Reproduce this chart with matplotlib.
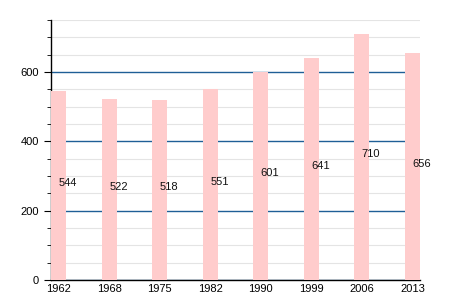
import matplotlib
matplotlib.use("Agg")
import matplotlib.pyplot as plt
from matplotlib.ticker import MultipleLocator

plt.rcParams["font.family"] = ["Liberation Sans", "DejaVu Sans"]

years = ["1962", "1968", "1975", "1982", "1990", "1999", "2006", "2013"]
values = [544, 522, 518, 551, 601, 641, 710, 656]

fig = plt.figure(figsize=(4.5, 3.0), dpi=100)
ax = fig.add_axes([51/450, 20/300, 369/450, 260/300])

x = list(range(len(years)))
ax.bar(x, values, width=0.3, color="#ffcccc", zorder=3)
for xi, v in zip(x, values):
    ax.text(xi, v / 2 + 8, str(v), ha="left", va="center", fontsize=8,
            color="#111111", zorder=4)

ax.set_xlim(-0.15, len(years) - 1 + 0.15)
ax.set_ylim(0, 750)
ax.set_xticks(x)
ax.set_xticklabels(years)
ax.yaxis.set_major_locator(MultipleLocator(200))
ax.yaxis.set_minor_locator(MultipleLocator(50))
ax.grid(axis="y", which="minor", color="#e4e4e4", linewidth=0.8, zorder=1)
ax.grid(axis="y", which="major", color="#1f5f96", linewidth=1.0, zorder=2)
ax.tick_params(axis="x", length=0, labelsize=8, pad=3)
ax.tick_params(axis="y", which="major", length=5, labelsize=8, direction="out")
ax.tick_params(axis="y", which="minor", length=3, direction="out")
for s in ["top", "right"]:
    ax.spines[s].set_visible(False)
ax.spines["left"].set_linewidth(1.0)
ax.spines["bottom"].set_linewidth(1.0)

fig.savefig("out.png", dpi=100)
